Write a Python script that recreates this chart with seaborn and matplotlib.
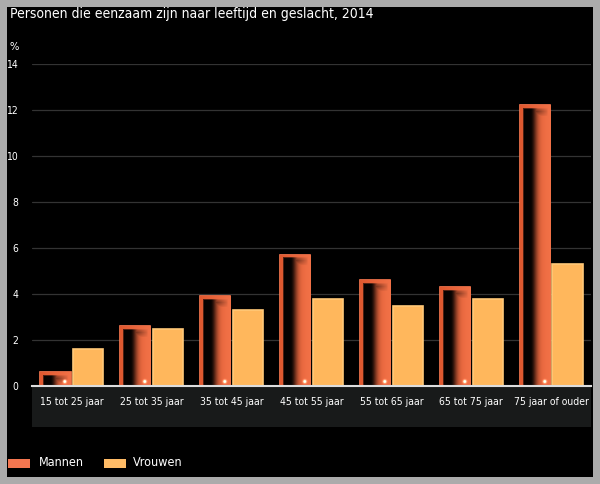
import numpy as np
import pandas as pd
import matplotlib
matplotlib.use("Agg")
import matplotlib.pyplot as plt
from matplotlib.patches import Rectangle
from matplotlib.colors import to_rgb
import seaborn as sns

categories = ["15 tot 25 jaar", "25 tot 35 jaar", "35 tot 45 jaar", "45 tot 55 jaar",
              "55 tot 65 jaar", "65 tot 75 jaar", "75 jaar of ouder"]
mannen = [0.6, 2.6, 3.9, 5.7, 4.6, 4.3, 12.2]
vrouwen = [1.6, 2.5, 3.3, 3.8, 3.5, 3.8, 5.3]
series = ["Mannen", "Vrouwen"]
yticks = [0, 2, 4, 6, 8, 10, 12, 14]
title = "Personen die eenzaam zijn naar leeftijd en geslacht, 2014"

df = pd.DataFrame({
    "cat": categories * 2,
    "val": mannen + vrouwen,
    "sex": [series[0]] * len(categories) + [series[1]] * len(categories),
})

sns.set_theme(style="dark")
plt.rcParams["font.family"] = ["DejaVu Sans"]
plt.rcParams["font.stretch"] = "condensed"

W, H = 600, 484
fig = plt.figure(figsize=(W / 100, H / 100), dpi=100, facecolor="#ababab")
fig.patches.append(Rectangle((7 / W, 7 / H), 586 / W, 470 / H, transform=fig.transFigure,
                             facecolor="black", edgecolor="none", zorder=-10))

ax = fig.add_axes([32 / W, 1 - 386 / H, 559 / W, 322 / H])
ax.set_facecolor("black")

c_m = "#ee6a42"
c_v = "#ffb75c"
sns.barplot(data=df, x="cat", y="val", hue="sex", order=categories, hue_order=series,
            palette=[c_m, c_v], width=0.82, gap=0.08, ax=ax, legend=False,
            saturation=1, linewidth=1.2)

nb = len(categories)
m_patches = ax.patches[:nb]
v_patches = ax.patches[nb:2 * nb]
for p in v_patches:
    p.set_edgecolor("#ffc878")
for p in m_patches:
    p.set_edgecolor("#ff7a50")

ax.set_ylim(0, 14)
ax.set_xlim(-0.5, nb - 0.5)

# gradient overlay for Mannen bars
base = np.array(to_rgb("#e0582f"))
bright = np.array(to_rgb("#f27248"))
px_per_unit = 322 / 14
for p in m_patches:
    x0, w = p.get_x(), p.get_width()
    h = p.get_height()
    hp = max(int(round(h * px_per_unit)), 2)
    wp = 31
    u = (np.arange(wp) + 0.5) / wp
    dv = np.arange(hp) + 0.5
    U, D = np.meshgrid(u, dv)
    dh = np.where(U < 0.34, 1.0, np.exp(-((U - 0.34) / 0.2) ** 2))
    dt = np.clip(1 - np.abs(D - 6.5) / 5.0, 0, 1) ** 0.7 * np.clip(0.95 - U, 0, 1) * 1.2
    dark = np.clip(np.maximum(dh, dt), 0, 1) * 0.97
    frame = np.clip(np.minimum.reduce([U * wp, (1 - U) * wp, D]) - 2.5, 0, 1.5) / 1.5
    dark = dark * frame
    col = base[None, None, :] + (bright - base)[None, None, :] * U[..., None]
    img = col * (1 - dark[..., None])
    hl = np.exp(-(((U - 0.8) * wp) ** 2 + ((hp - D - 4.5)) ** 2) / 2.5)
    img = np.clip(img + hl[..., None] * 0.95, 0, 1)
    im = ax.imshow(img, extent=(x0, x0 + w, 0, h), origin="upper", aspect="auto",
                   interpolation="bilinear", zorder=p.get_zorder() + 0.1)
    im.set_clip_path(p)
ax.set_xlim(-0.5, nb - 0.5)
ax.set_ylim(0, 14)

ax.set_yticks(yticks)
ax.yaxis.grid(True, color="#333333", linewidth=0.9)
ax.xaxis.grid(False)
ax.set_axisbelow(True)
for s in ["top", "right", "left"]:
    ax.spines[s].set_visible(False)
ax.spines["bottom"].set_color("#dddddd")
ax.spines["bottom"].set_linewidth(1.5)
ax.spines["bottom"].set_zorder(5)

ax.tick_params(axis="y", length=0, pad=10, labelsize=7.5, labelcolor="white")
ax.tick_params(axis="x", which="major", length=0, pad=8, labelsize=7.5, labelcolor="white")
ax.set_xticks(np.arange(-0.5, nb, 1.0), minor=True)
ax.tick_params(axis="x", which="minor", length=5, color="#555555", width=0.8, direction="out")
ax.set_xlabel("")
ax.set_ylabel("")

ax.add_patch(Rectangle((0, -41 / 322), 1, 41 / 322, transform=ax.transAxes, facecolor="#181a1a",
                       edgecolor="none", clip_on=False, zorder=-1))

fig.text(10 / W, 1 - 14 / H, title, color="white", fontsize=10, va="center", ha="left")
fig.text(10 / W, 1 - 47 / H, "%", color="white", fontsize=8, va="center", ha="left")

for xpos, color, name, tx in [(8, "#f47650", series[0], 39), (104, "#ffbb66", series[1], 133)]:
    fig.patches.append(Rectangle((xpos / W, 1 - 468 / H), 22 / W, 9 / H, transform=fig.transFigure,
                                 facecolor=color, edgecolor="none"))
    fig.text(tx / W, 1 - 463 / H, name, color="white", fontsize=9, va="center", ha="left")

fig.savefig("out.png", dpi=100, facecolor=fig.get_facecolor())
